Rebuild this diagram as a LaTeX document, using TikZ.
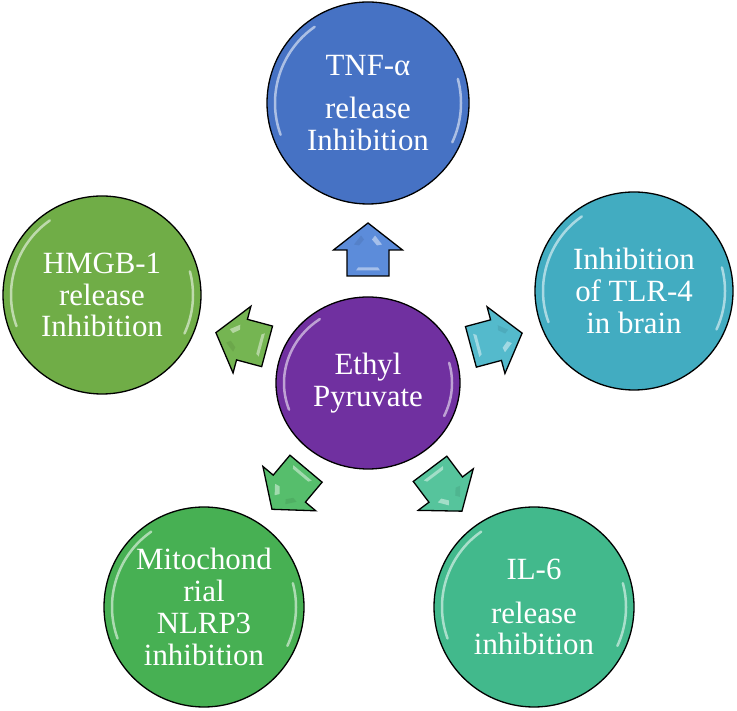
\documentclass[tikz,border=0pt]{standalone}
\usepackage{fontspec}
\setmainfont{Liberation Serif}
\usetikzlibrary{shapes.geometric}
\definecolor{cTop}{RGB}{70,114,196}
\definecolor{cRight}{RGB}{66,172,193}
\definecolor{cLeft}{RGB}{112,173,71}
\definecolor{cBL}{RGB}{71,176,83}
\definecolor{cBR}{RGB}{66,185,140}
\definecolor{cCen}{RGB}{112,48,160}
\definecolor{aTop}{RGB}{92,140,218}
\definecolor{aLeft}{RGB}{117,181,82}
\definecolor{aRight}{RGB}{84,186,204}
\definecolor{aBL}{RGB}{86,190,108}
\definecolor{aBR}{RGB}{86,196,156}
\newcommand\blockarr[4]{%
  \begin{scope}[shift={(#1,#2)}, rotate=#3]
    \draw[blockarrow, fill=#4] (-26.5,-21) -- (-0.5,-21) -- (-0.5,-34.5) -- (26.5,0)
      -- (-0.5,34.5) -- (-0.5,21) -- (-26.5,21) -- cycle;
    \fill[white, opacity=0.45] (-21,-12) -- (-18,-10) -- (-18,10) -- (-21,12) -- cycle;
    \fill[white, opacity=0.45] (5,-14) -- (14,-7) -- (10,-4) -- (4,-9) -- cycle;
    \fill[#4!70!black, opacity=0.25] (5,14) -- (14,7) -- (10,4) -- (4,9) -- cycle;
  \end{scope}}
\newcommand\glossc[2]{%
  \draw[gloss] ([shift={(125:#2)}]#1.center) arc[start angle=125, end angle=200, radius=#2];
  \draw[gloss] ([shift={(-25:#2)}]#1.center) arc[start angle=-25, end angle=15, radius=#2];}
\begin{document}
\begin{tikzpicture}[x=1bp,y=1bp,
  bubble/.style={circle, draw=black, line width=1.3bp, inner sep=0pt, text=white,
    align=center, font=\fontsize{31}{32}\selectfont},
  blockarrow/.style={draw=black, line width=1.3bp, line join=miter},
  gloss/.style={white, opacity=0.55, line width=2.5bp, line cap=round}]
\useasboundingbox (0,0) rectangle (737,711);

\node[bubble, fill=cTop, minimum size=202bp] (tnf) at (368,608) {TNF-α\\[12bp]release\\Inhibition};
\node[bubble, fill=cRight, minimum size=198bp] (tlr) at (634,420) {Inhibition\\of TLR-4\\in brain};
\node[bubble, fill=cLeft, minimum size=198bp] (hmgb) at (102,416) {HMGB-1\\release\\Inhibition};
\node[bubble, fill=cBL, minimum size=200bp] (nlrp) at (204,104) {Mitochond\\rial\\NLRP3\\inhibition};
\node[bubble, fill=cBR, minimum size=200bp] (il) at (534,104) {IL-6\\[12bp]release\\inhibition};
\node[bubble, ellipse, fill=cCen, minimum width=184bp, minimum height=172bp] (ep) at (368,328) {Ethyl\\Pyruvate};

\glossc{tnf}{93bp}
\glossc{tlr}{91bp}
\glossc{hmgb}{91bp}
\glossc{nlrp}{92bp}
\glossc{il}{92bp}
\draw[gloss] ([shift={(125:84bp and 78bp)}]ep.center) arc[start angle=125, end angle=200, x radius=84bp, y radius=78bp];
\draw[gloss] ([shift={(-25:84bp and 78bp)}]ep.center) arc[start angle=-25, end angle=15, x radius=84bp, y radius=78bp];

\blockarr{368}{461.5}{90}{aTop}
\blockarr{241.5}{371.5}{165}{aLeft}
\blockarr{496.5}{371}{15}{aRight}
\blockarr{289}{222}{230}{aBL}
\blockarr{446}{221}{307}{aBR}
\end{tikzpicture}
\end{document}
